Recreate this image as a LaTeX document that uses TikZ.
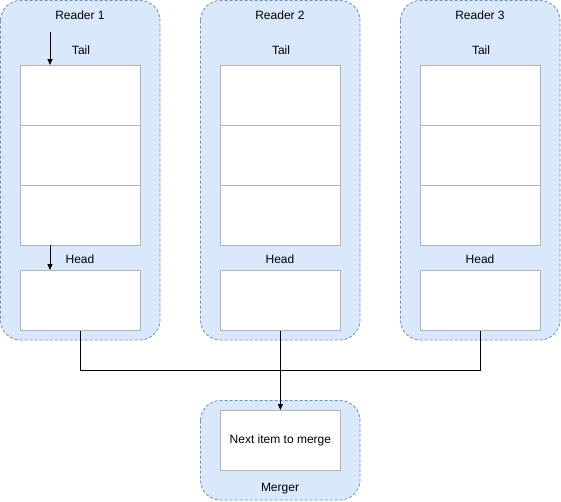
\documentclass[tikz,border=0pt]{standalone}
\usepackage{fontspec}
\setmainfont{Liberation Sans}
\usetikzlibrary{arrows.meta}
\definecolor{cfill}{HTML}{DAE8FC}
\definecolor{cline}{HTML}{6C8EBF}
\definecolor{gline}{HTML}{B3B3B3}
\begin{document}
\begin{tikzpicture}[x=1pt,y=-1pt,
  container/.style={draw=cline,fill=cfill,dashed,dash pattern=on 3pt off 2pt,rounded corners=20pt,line width=0.8pt},
  cell/.style={draw=gline,fill=white,line width=0.8pt},
  lbl/.style={font=\fontsize{12}{14}\selectfont,inner sep=0pt},
  conn/.style={draw=black,line width=0.8pt},
  arr/.style={conn,-{Triangle[length=6pt,width=5pt]}}]
\useasboundingbox (0,0) rectangle (561,501);
\foreach \i/\x in {1/0,2/200,3/400}{
  \draw[container] (\x+0.5,0.5) rectangle coordinate (r\i) (\x+160,340);
  \node[lbl] (rt\i) at (\x+80,15) {Reader \i};
  \node[lbl] (tl\i) at (\x+81,50) {Tail};
  \node[lbl] (hd\i) at (\x+80,259) {Head};
  \draw[cell] (\x+20,65) rectangle (\x+140,125);
  \draw[cell] (\x+20,125) rectangle (\x+140,185);
  \draw[cell] (\x+20,185) rectangle (\x+140,245);
  \node[cell,minimum width=120pt,minimum height=60pt,anchor=north west] (h\i) at (\x+20,270) {};
}
\draw[container] (200.5,400.5) rectangle (360,500);
\node[cell,minimum width=120pt,minimum height=60pt,anchor=north west,lbl] (m) at (220,410) {Next item to merge};
\node[lbl] (ml) at (280,489) {Merger};
\coordinate (t0) at (50,32);
\coordinate (t1) at (50,65);
\coordinate (hh0) at (50,245);
\coordinate (hh1) at (50,270);
\draw[arr] (t0) -- (t1);
\draw[arr] (hh0) -- (hh1);
\coordinate (j) at (280,370);
\draw[conn] (h1.south) |- (j);
\draw[conn] (h3.south) |- (j);
\draw[arr] (h2.south) -- (m.north);
\end{tikzpicture}
\end{document}
